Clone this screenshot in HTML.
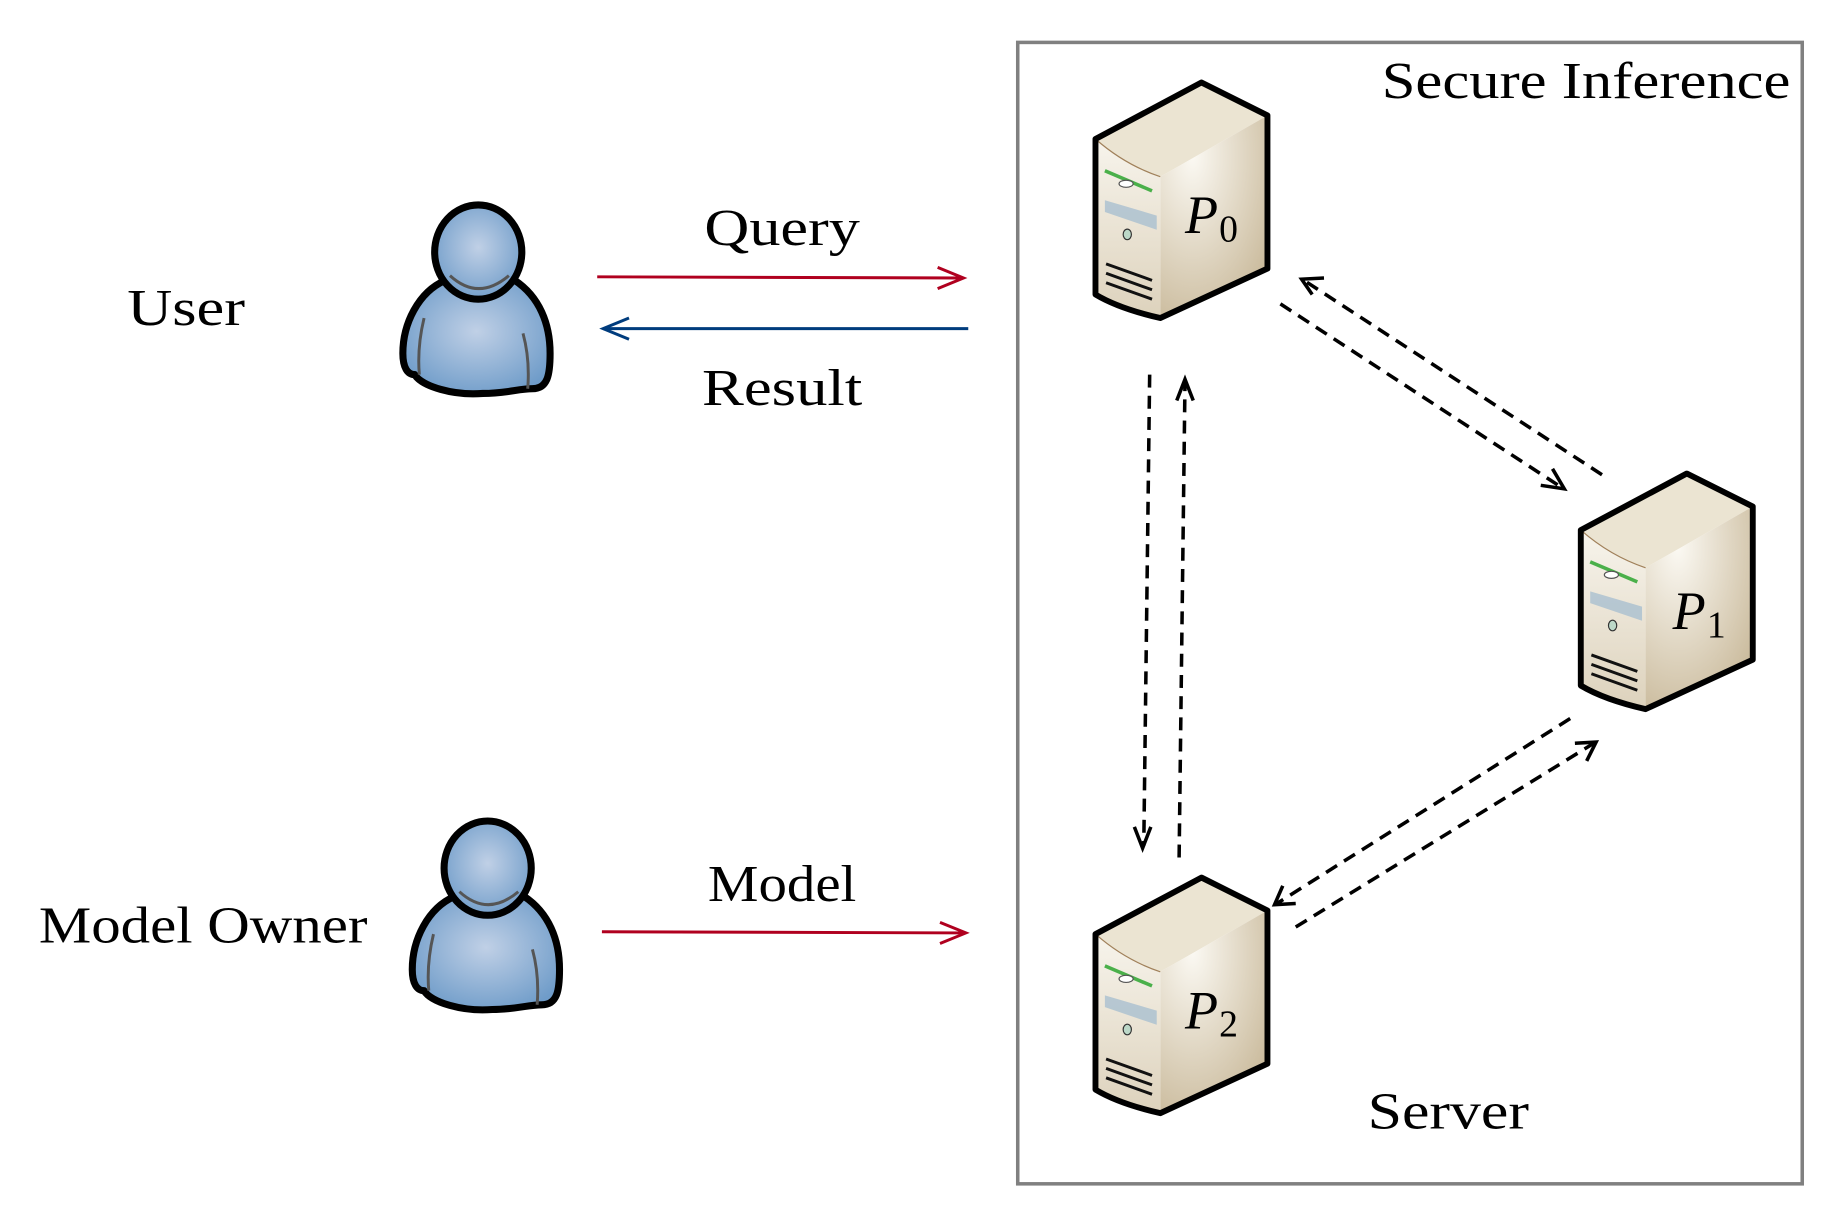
<!DOCTYPE html>
<html><head><meta charset="utf-8"><style>
html,body{margin:0;padding:0;background:#fff;}
svg{display:block;}
text{font-family:"Liberation Serif",serif;fill:#000;}
</style></head><body>
<svg width="1847" height="1226" viewBox="0 0 1568 1040.8" preserveAspectRatio="none" xmlns="http://www.w3.org/2000/svg">
<defs>
<radialGradient id="blue" cx="0.5" cy="0.45" r="0.6">
<stop offset="0" stop-color="#c0d0e6"/><stop offset="1" stop-color="#6f9cc9"/></radialGradient>
<linearGradient id="front" x1="0" y1="0" x2="0" y2="1">
<stop offset="0" stop-color="#f7f4ec"/><stop offset="1" stop-color="#ddd2bc"/></linearGradient>
<radialGradient id="side" cx="0.3" cy="0.2" r="0.9">
<stop offset="0" stop-color="#fbf9f3"/><stop offset="1" stop-color="#c9b99a"/></radialGradient>
<g id="srv">
<path d="M930,118 L1020,70 L1076,98 L985,150 Q955,140 930,118Z" fill="#ebe4d2"/>
<path d="M985,150 L1076,98 L1076,228 L985,270Z" fill="url(#side)"/>
<path d="M930,118 Q955,140 985,150 L985,270 Q950,262 930,250Z" fill="url(#front)"/>
<path d="M930,118 Q955,140 985,150" fill="none" stroke="#a0805a" stroke-width="1"/>
<path d="M930,118 L1020,70 L1076,98 L1076,228 L985,270 Q950,262 930,250Z" fill="none" stroke="#000" stroke-width="5" stroke-linejoin="round"/>
<path d="M938,145 L978,162" stroke="#4ab04a" stroke-width="3"/>
<ellipse cx="956" cy="156" rx="6" ry="3" fill="#fff" stroke="#555"/>
<path d="M938,170 L982,183 L982,195 L938,180Z" fill="#a9bfd0" opacity="0.8"/>
<ellipse cx="957" cy="199" rx="3.5" ry="4.5" fill="#bcd8c8" stroke="#333"/>
<path d="M939,224 L978,238 M939,232 L978,246 M939,240 L978,254" stroke="#111" stroke-width="2.5"/>
</g>
<g id="usr">
<path d="M378,238 C355,248 342,275 342,300 C342,312 346,318 352,318 C358,328 385,336 410,334 C430,334 440,330 452,330 C465,330 467,318 467,300 C467,275 458,252 437,238Z" fill="url(#blue)" stroke="#000" stroke-width="6" stroke-linejoin="round"/>
<ellipse cx="406" cy="214" rx="37" ry="40" fill="url(#blue)" stroke="#000" stroke-width="6"/>
<path d="M382,234 Q406,256 432,234" fill="none" stroke="#555" stroke-width="2.5"/>
<path d="M360,270 Q354,295 356,318 M444,283 Q450,305 448,330" fill="none" stroke="#555" stroke-width="2.5"/>
</g>
</defs>
<rect x="864" y="36" width="666" height="969" fill="none" stroke="#808080" stroke-width="3"/>
<text x="1173" y="83" font-size="44" textLength="347" lengthAdjust="spacingAndGlyphs">Secure Inference</text>
<text x="108" y="276" font-size="44" textLength="100" lengthAdjust="spacingAndGlyphs">User</text>
<text x="33" y="800" font-size="44" textLength="279" lengthAdjust="spacingAndGlyphs">Model Owner</text>
<text x="598" y="208" font-size="44" textLength="132" lengthAdjust="spacingAndGlyphs">Query</text>
<text x="596" y="344" font-size="44" textLength="136" lengthAdjust="spacingAndGlyphs">Result</text>
<text x="601" y="765" font-size="44" textLength="126" lengthAdjust="spacingAndGlyphs">Model</text>
<text x="1161" y="958" font-size="44" textLength="137" lengthAdjust="spacingAndGlyphs">Server</text>
<use href="#usr"/>
<use href="#usr" transform="translate(8,523)"/>
<use href="#srv"/>
<use href="#srv" transform="translate(412,332)"/>
<use href="#srv" transform="translate(0,675)"/>
<text x="1006" y="198" font-size="46" font-style="italic">P</text><text x="1035" y="205" font-size="32">0</text>
<text x="1420" y="534" font-size="46" font-style="italic">P</text><text x="1449" y="541" font-size="32">1</text>
<text x="1006" y="873" font-size="46" font-style="italic">P</text><text x="1035" y="880" font-size="32">2</text>
<g fill="none" stroke-width="2.5">
<path d="M507,235 L818,236" stroke="#b0001f"/><path d="M796,227 L818,236 L796,245" stroke="#b0001f"/>
<path d="M822,279 L512,279" stroke="#003c7d"/><path d="M534,270 L512,279 L534,288" stroke="#003c7d"/>
<path d="M511,791 L820,792" stroke="#b0001f"/><path d="M798,783 L820,792 L798,801" stroke="#b0001f"/>
</g>
<g fill="none" stroke="#000" stroke-width="3">
<g stroke-dasharray="11,7">
<path d="M1087,258 L1326,414"/><path d="M1360,403 L1107,238"/>
<path d="M976,318 L971,718"/><path d="M1001,728 L1006,324"/>
<path d="M1333,610 L1084,767"/><path d="M1100,787 L1353,631"/>
</g>
<path d="M1308,412 L1328,415 L1318,398"/>
<path d="M1114,250 L1105,237 L1124,236"/>
<path d="M963,702 L970,720 L977,702"/>
<path d="M999,340 L1006,322 L1013,340"/>
<path d="M1089,752 L1082,768 L1100,767"/>
<path d="M1337,631 L1355,630 L1347,646"/>
</g>
</svg>
</body></html>
